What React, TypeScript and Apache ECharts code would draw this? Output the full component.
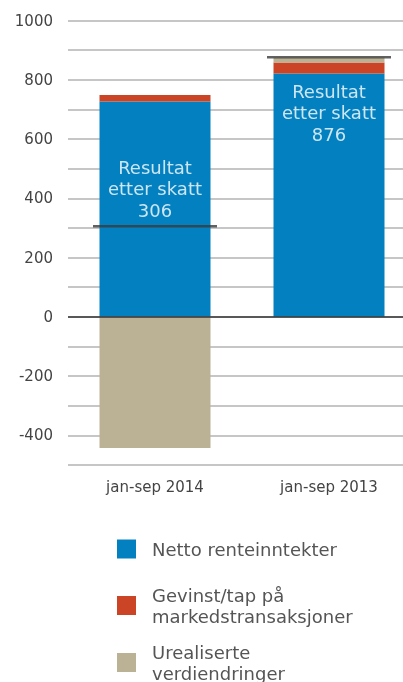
import React, { useEffect, useRef } from "react";
import * as echarts from "echarts";

const categories = ["jan-sep 2014", "jan-sep 2013"];
const nettoRenteinntekter = [727, 821];
const gevinstTap = [22, 37];
const urealiserte = [-443, 16];
const resultatEtterSkatt = [306, 876];
const seriesNames = [
  "Netto renteinntekter",
  "Gevinst/tap på markedstransaksjoner",
  "Urealiserte verdiendringer",
];
const legendLabels = [
  "Netto renteinntekter",
  "Gevinst/tap på\nmarkedstransaksjoner",
  "Urealiserte\nverdiendringer",
];
const yTickStep = 200;

const FONT = "DejaVu Sans";
const BLUE = "#0380c0";
const RED = "#cc4426";
const BEIGE = "#bbb195";

export default function App() {
  const ref = useRef<HTMLDivElement>(null);
  useEffect(() => {
    if (!ref.current) return;
    const chart = echarts.init(ref.current, null, { renderer: "svg" });
    const legendTops = [538.5, 584.5, 641.5];
    chart.setOption({
      animation: false,
      textStyle: { fontFamily: FONT },
      grid: { left: 68, right: 0, top: 20.5, bottom: 217 },
      legend: seriesNames.map((n, i) => ({
        data: [n],
        orient: "vertical",
        left: 117,
        top: legendTops[i],
        padding: 0,
        icon: "rect",
        itemWidth: 19,
        itemHeight: 19,
        selectedMode: false,
        formatter: () => legendLabels[i],
        textStyle: {
          fontFamily: FONT,
          fontSize: 18,
          color: "#555",
          lineHeight: 21,
          padding: [0, 0, 0, 11],
        },
      })),
      xAxis: {
        type: "category",
        data: categories,
        axisLine: { show: false },
        axisTick: { show: false },
        axisLabel: { color: "#444", fontSize: 15, margin: 14, fontFamily: FONT },
      },
      yAxis: {
        type: "value",
        min: -500,
        max: 1000,
        interval: 100,
        axisLine: { show: false },
        axisTick: { show: false },
        axisLabel: {
          color: "#444",
          fontSize: 15,
          margin: 15,
          fontFamily: FONT,
          formatter: (v: number) => (v % yTickStep === 0 ? String(v) : ""),
        },
        splitLine: { lineStyle: { color: "#b3b3b3", width: 1.5 } },
      },
      series: [
        {
          name: seriesNames[0],
          type: "bar",
          stack: "total",
          barWidth: 111,
          data: nettoRenteinntekter,
          itemStyle: { color: BLUE },
          markLine: {
            silent: true,
            symbol: "none",
            label: { show: false },
            lineStyle: { color: "#333", width: 1.5, type: "solid" },
            data: [{ yAxis: 0 }],
          },
        },
        {
          name: seriesNames[1],
          type: "bar",
          stack: "total",
          barWidth: 111,
          data: gevinstTap,
          itemStyle: { color: RED },
        },
        {
          name: seriesNames[2],
          type: "bar",
          stack: "total",
          barWidth: 111,
          data: urealiserte,
          itemStyle: { color: BEIGE },
        },
        {
          name: "Resultat etter skatt",
          type: "scatter",
          symbol: "rect",
          symbolSize: [124, 2.5],
          itemStyle: { color: "#3a3a3a" },
          z: 5,
          data: resultatEtterSkatt.map((v, i) => ({
            value: v,
            label: {
              show: true,
              position: i === 0 ? "top" : "bottom",
              distance: i === 0 ? 4 : 22,
              formatter: () => `Resultat\netter skatt\n${v}`,
              color: "#fff",
              fontSize: 18,
              lineHeight: 21.5,
              align: "center",
              fontFamily: FONT,
            },
          })),
        },
      ],
    });
    return () => chart.dispose();
  }, []);
  return (
    <div style={{ position: "fixed", left: 0, top: 0, width: 403, height: 682, overflow: "hidden" }}>
      <div ref={ref} style={{ width: 416, height: 682 }} />
    </div>
  );
}
